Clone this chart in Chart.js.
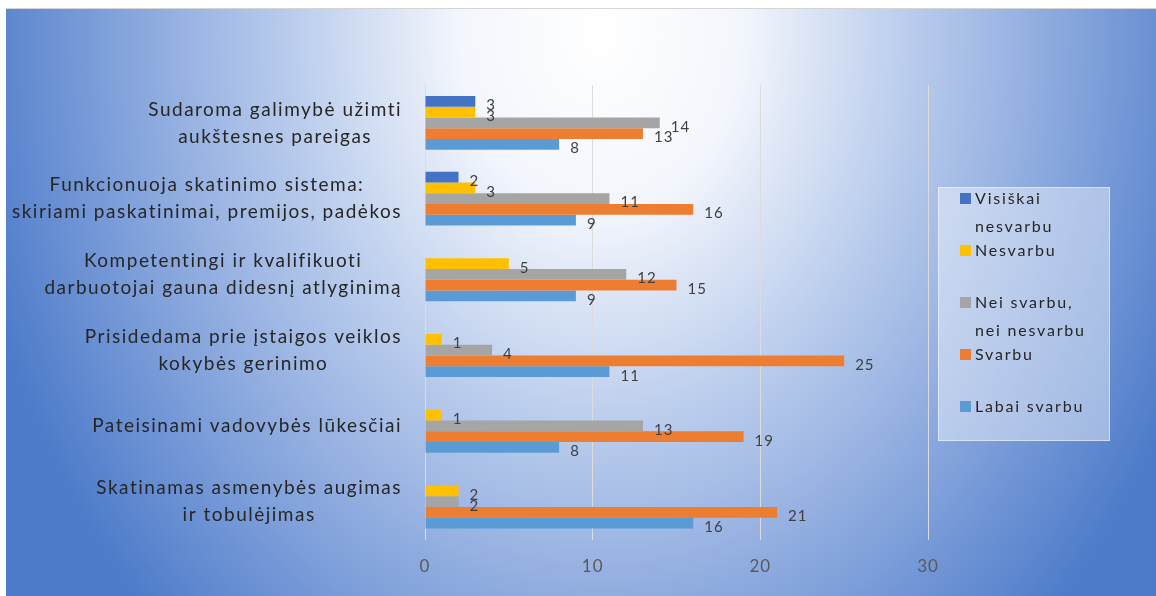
<!DOCTYPE html>
<html>
<head>
<meta charset="utf-8">
<script src="https://cdn.jsdelivr.net/npm/chart.js@4.4.1/dist/chart.umd.min.js"></script>
<style>
  html, body { margin: 0; padding: 0; background: #fff; width: 1156px; height: 596px; overflow: hidden; }
  #wrap {
    position: absolute; left: 6px; top: 8px; width: 1150px; height: 588px;
    border-top: 1px solid #d4d4d4; box-sizing: border-box;
    background: radial-gradient(ellipse 640px 820px at 594px 22px,
      #ffffff 0%, #f3f6fc 22%, #c3d3ef 44%, #8eabdf 70%, #4e7cca 100%);
  }
</style>
</head>
<body>
<div id="wrap"><canvas id="chart"></canvas></div>
<script>
// categories, top to bottom
const categories = [
  ['Sudaroma galimybė užimti', 'aukštesnes pareigas'],
  ['Funkcionuoja skatinimo sistema:', 'skiriami paskatinimai, premijos, padėkos'],
  ['Kompetentingi ir kvalifikuoti', 'darbuotojai gauna didesnį atlyginimą'],
  ['Prisidedama prie įstaigos veiklos', 'kokybės gerinimo'],
  ['Pateisinami vadovybės lūkesčiai'],
  ['Skatinamas asmenybės augimas', 'ir tobulėjimas']
];

const seriesNames = ['Visiškai nesvarbu', 'Nesvarbu', 'Nei svarbu, nei nesvarbu', 'Svarbu', 'Labai svarbu'];
const seriesColors = ['#4472C4', '#FFC000', '#A5A5A5', '#ED7D31', '#5B9BD5'];

const visiskaiNesvarbu = [3, 2, null, null, null, null];
const nesvarbu         = [3, 3, 5, 1, 1, 2];
const neiSvarbu        = [14, 11, 12, 4, 13, 2];
const svarbu           = [13, 16, 15, 25, 19, 21];
const labaiSvarbu      = [8, 9, 9, 11, 8, 16];

const xTicks = [0, 10, 20, 30];

const FONT = 'Lato, "Open Sans", sans-serif';

// a bit of letter spacing, the original text is spread out
const spacing = {
  id: 'spacing',
  beforeDraw(chart) { chart.ctx.letterSpacing = '1px'; }
};

// value labels at the end of each bar
const barLabels = {
  id: 'barLabels',
  afterDatasetsDraw(chart) {
    const ctx = chart.ctx;
    ctx.save();
    ctx.letterSpacing = '1px';
    ctx.font = '15px ' + FONT;
    ctx.fillStyle = '#404040';
    ctx.textBaseline = 'middle';
    ctx.textAlign = 'left';
    chart.data.datasets.forEach((ds, i) => {
      const meta = chart.getDatasetMeta(i);
      meta.data.forEach((bar, j) => {
        const v = ds.data[j];
        if (v == null) return;
        ctx.fillText(String(v), bar.x + 11, bar.y + 4);
      });
    });
    ctx.restore();
  }
};

// category labels: block right aligned, lines centred inside the block
const catLabels = {
  id: 'catLabels',
  afterDraw(chart) {
    const ctx = chart.ctx;
    const y = chart.scales.y;
    const right = chart.chartArea.left - 23;
    const lh = 27;
    ctx.save();
    ctx.letterSpacing = '1.5px';
    ctx.font = '19px ' + FONT;
    ctx.fillStyle = '#262626';
    ctx.textBaseline = 'middle';
    ctx.textAlign = 'left';
    categories.forEach((lines, j) => {
      const widths = lines.map(l => ctx.measureText(l).width);
      const w = Math.max(...widths);
      const cx = right - w / 2;
      const cy = y.getPixelForValue(j);
      const top = cy - (lines.length - 1) * lh / 2;
      lines.forEach((l, k) => ctx.fillText(l, cx - widths[k] / 2, top + k * lh));
    });
    ctx.restore();
  }
};

// legend box on the right with wrapped names
const sideLegend = {
  id: 'sideLegend',
  afterDraw(chart) {
    const ctx = chart.ctx;
    const bx = 932, by = 178, bw = 172, bh = 254;
    ctx.save();
    ctx.fillStyle = 'rgba(255,255,255,0.42)';
    ctx.fillRect(bx, by, bw, bh);
    ctx.strokeStyle = 'rgba(255,255,255,0.5)';
    ctx.lineWidth = 1;
    ctx.strokeRect(bx + 0.5, by + 0.5, bw - 1, bh - 1);

    ctx.letterSpacing = '1.8px';
    ctx.font = '16px ' + FONT;
    ctx.textBaseline = 'middle';
    ctx.textAlign = 'left';
    const maxW = 122;
    chart.data.datasets.forEach((ds, i) => {
      const words = ds.label.split(' ');
      const lines = [];
      let cur = '';
      words.forEach(wd => {
        const t = cur ? cur + ' ' + wd : wd;
        if (cur && ctx.measureText(t).width > maxW) { lines.push(cur); cur = wd; }
        else cur = t;
      });
      lines.push(cur);
      const y0 = by + 12 + i * 52;
      ctx.fillStyle = ds.backgroundColor;
      ctx.fillRect(bx + 22, y0 - 6, 11, 11);
      ctx.fillStyle = '#262626';
      lines.forEach((l, k) => ctx.fillText(l, bx + 37, y0 + k * 28));
    });
    ctx.restore();
  }
};

const dataSets = [visiskaiNesvarbu, nesvarbu, neiSvarbu, svarbu, labaiSvarbu].map((d, i) => ({
  label: seriesNames[i],
  data: d,
  backgroundColor: seriesColors[i],
  borderWidth: 0,
  categoryPercentage: 0.71,
  barPercentage: 1.0
}));

new Chart(document.getElementById('chart'), {
  type: 'bar',
  data: { labels: categories, datasets: dataSets },
  plugins: [spacing, barLabels, catLabels, sideLegend],
  options: {
    indexAxis: 'y',
    responsive: true,
    maintainAspectRatio: false,
    animation: false,
    layout: { padding: { left: 419, right: 228, top: 76, bottom: 2 } },
    plugins: {
      legend: { display: false },
      tooltip: { enabled: false }
    },
    scales: {
      x: {
        min: 0,
        max: 30,
        afterBuildTicks: axis => { axis.ticks = xTicks.map(v => ({ value: v })); },
        grid: { color: '#dcdcdc', lineWidth: 1, drawTicks: false },
        border: { display: false },
        ticks: {
          padding: 17,
          color: '#595959',
          font: { family: FONT, size: 17 }
        }
      },
      y: {
        display: false
      }
    }
  }
});
</script>
</body>
</html>
